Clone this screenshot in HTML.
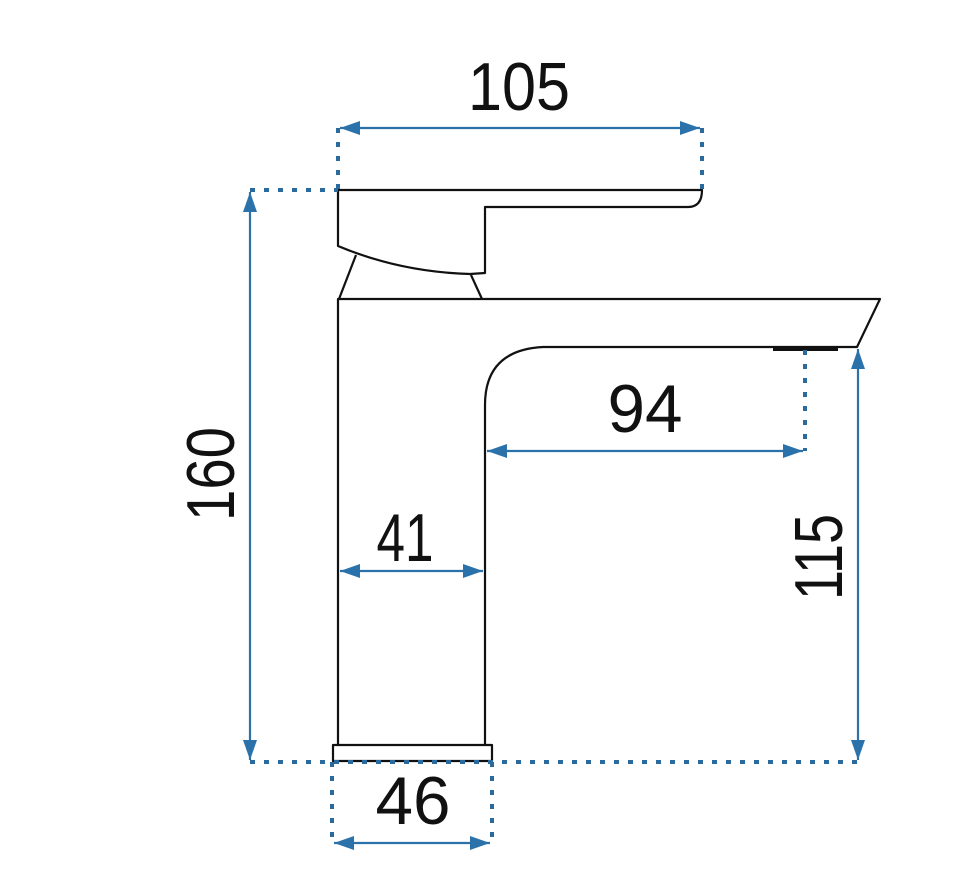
<!DOCTYPE html>
<html><head><style>html,body{margin:0;padding:0;background:#fff;}svg{display:block}</style></head>
<body>
<svg width="970" height="896" viewBox="0 0 970 896" xmlns="http://www.w3.org/2000/svg">
<defs>
<marker id="a" viewBox="0 0 20 14" refX="20" refY="7" markerWidth="20" markerHeight="14" markerUnits="userSpaceOnUse" orient="auto-start-reverse"><path d="M0,0 L20,7 L0,14 z" fill="#2b72ab"/></marker>
</defs>
<g fill="none" stroke="#111" stroke-width="2.2" stroke-linejoin="round">
<path d="M338,190 L702,190 Q702,207 688,207 L485,207 L485,273 L470,274 Q400,272 338,246 Z"/>
<path d="M356,255 L339,299 M471,275 L482,299"/>
<path d="M338,745 L338,299 L880,299 L857,347 L543,347 Q485,350 485,405 L485,745"/>
<rect x="333" y="745" width="159" height="16"/>
</g>
<rect x="773" y="346" width="65" height="5" fill="#111"/>
<g stroke="#2a6a9c" stroke-width="4" stroke-dasharray="5,9" fill="none">
<path d="M250,762 L860,762"/>
<path d="M250,190 L338,190"/>
<path d="M338,128 L338,190 M702,128 L702,190"/>
<path d="M332,762 L332,843 M492,762 L492,843"/>
<path d="M805,350 L805,451"/>
</g>
<g stroke="#2b72ab" stroke-width="2.2" fill="none">
<line x1="340" y1="128" x2="700" y2="128" marker-start="url(#a)" marker-end="url(#a)"/>
<line x1="250" y1="192" x2="250" y2="760" marker-start="url(#a)" marker-end="url(#a)"/>
<line x1="487" y1="451" x2="803" y2="451" marker-start="url(#a)" marker-end="url(#a)"/>
<line x1="340" y1="571" x2="483" y2="571" marker-start="url(#a)" marker-end="url(#a)"/>
<line x1="858" y1="349" x2="858" y2="760" marker-start="url(#a)" marker-end="url(#a)"/>
<line x1="334" y1="843" x2="490" y2="843" marker-start="url(#a)" marker-end="url(#a)"/>
</g>
<g font-family="Liberation Sans, sans-serif" font-size="68" fill="#111" text-anchor="middle" lengthAdjust="spacingAndGlyphs">
<text x="519" y="110" textLength="102" lengthAdjust="spacingAndGlyphs">105</text>
<text x="645" y="432" textLength="75" lengthAdjust="spacingAndGlyphs">94</text>
<text x="405" y="561" textLength="57" lengthAdjust="spacingAndGlyphs">41</text>
<text x="413" y="824" textLength="75" lengthAdjust="spacingAndGlyphs">46</text>
<text transform="translate(234,474) rotate(-90)" textLength="94" lengthAdjust="spacingAndGlyphs">160</text>
<text transform="translate(842,557) rotate(-90)" textLength="86" lengthAdjust="spacingAndGlyphs">115</text>
</g>
</svg>
</body></html>
